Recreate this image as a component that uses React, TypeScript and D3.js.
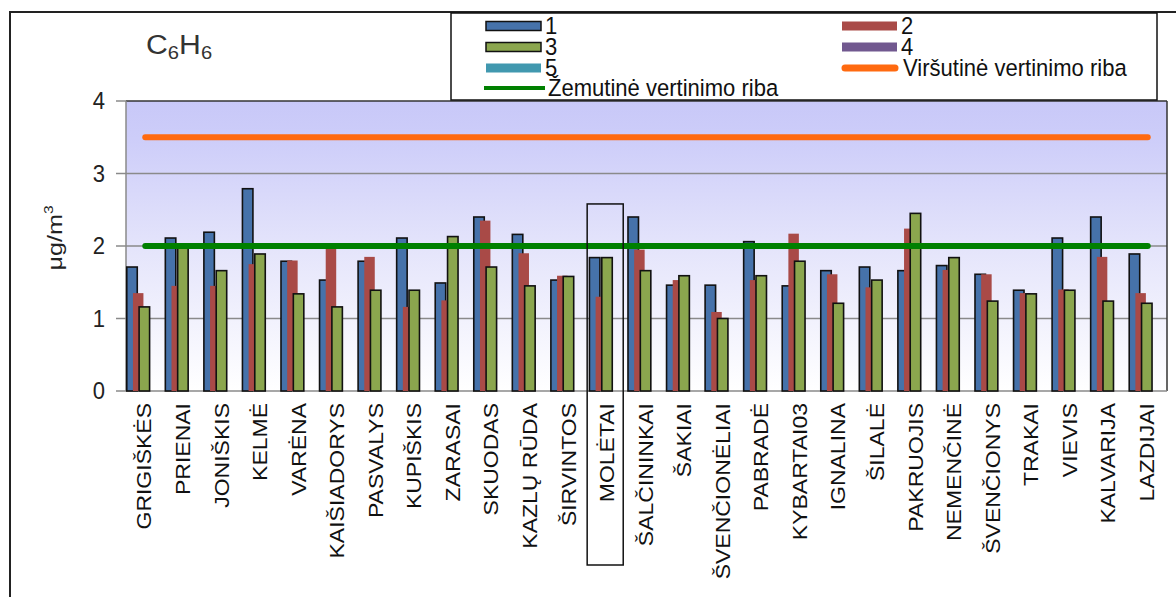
import React from "react";
import * as d3 from "d3";

const categories = ["GRIGIŠKĖS","PRIENAI","JONIŠKIS","KELMĖ","VARĖNA","KAIŠIADORYS","PASVALYS","KUPIŠKIS","ZARASAI","SKUODAS","KAZLŲ RŪDA","ŠIRVINTOS","MOLĖTAI","ŠALČININKAI","ŠAKIAI","ŠVENČIONĖLIAI","PABRADĖ","KYBARTAI03","IGNALINA","ŠILALĖ","PAKRUOJIS","NEMENČINĖ","ŠVENČIONYS","TRAKAI","VIEVIS","KALVARIJA","LAZDIJAI"];
const series1 = [1.71,2.11,2.19,2.79,1.79,1.53,1.79,2.11,1.49,2.40,2.16,1.53,1.84,2.40,1.46,1.46,2.06,1.45,1.66,1.71,1.66,1.73,1.61,1.39,2.11,2.40,1.89];
const series2 = [1.35,1.45,1.45,1.75,1.80,1.98,1.85,1.16,1.25,2.35,1.90,1.59,1.30,1.95,1.53,1.09,1.53,2.17,1.61,1.43,2.24,1.67,1.61,1.35,1.40,1.85,1.35];
const series3 = [1.16,1.98,1.66,1.89,1.34,1.16,1.39,1.39,2.13,1.71,1.45,1.58,1.84,1.66,1.59,1.00,1.59,1.79,1.21,1.53,2.45,1.84,1.24,1.34,1.39,1.24,1.21];
const series4: number[] = [];
const series5: number[] = [];
const seriesNames = ["1","2","3","4","5"];
const seriesColors = ["#4672AA","#A94A47","#8BA64E","#71588F","#4198AF"];
const seriesOutlined = [true,false,true,false,false];
const upperLimit = 3.5;
const lowerLimit = 2.0;
const upperName = "Viršutinė vertinimo riba";
const lowerName = "Žemutinė vertinimo riba";
const yTicks = [0,1,2,3,4];
const highlighted = "MOLĖTAI";

const allSeries = [series1, series2, series3, series4, series5];

export default function App() {
  const W = 1176, H = 597;
  const plot = { left: 126, right: 1167, top: 101, bottom: 391 };
  const x = d3.scaleBand<string>().domain(categories).range([plot.left, plot.right]);
  const y = d3.scaleLinear().domain([0, 4]).range([plot.bottom, plot.top]);
  const bw = x.bandwidth();
  const barW = bw * 0.272;
  const step = bw * 0.16;
  const off = bw * 0.02;
  const font = "Arial, 'Liberation Sans', sans-serif";
  const c0 = (x(categories[0]) as number) + bw / 2;
  const cN = (x(categories[categories.length - 1]) as number) + bw / 2;
  const hx = x(highlighted) as number;
  const legendText = (tx: number, ty: number, s: string) => (
    <text transform={`translate(${tx},${ty}) scale(1.05,1.15)`} fontSize={21} fill="#111">{s}</text>
  );

  return (
    <svg width={W} height={H} style={{ position: "absolute", left: 0, top: 0, background: "#fff" }} fontFamily={font}>
      <defs>
        <linearGradient id="bg" x1="0" y1="0" x2="0" y2="1">
          <stop offset="0" stopColor="#c8c8f8" />
          <stop offset="0.13" stopColor="#cdcdf9" />
          <stop offset="0.5" stopColor="#e4e4fb" />
          <stop offset="1" stopColor="#ffffff" />
        </linearGradient>
      </defs>
      {/* outer frame */}
      <line x1={9} x2={W} y1={12} y2={12} stroke="#222" strokeWidth={2} />
      <line x1={10} x2={10} y1={12} y2={H} stroke="#222" strokeWidth={2} />

      {/* title */}
      <text transform="translate(146,54) scale(1.12,1)" fontSize={27} fill="#333">
        C<tspan fontSize={18} dy={5}>6</tspan><tspan dy={-5}>H</tspan><tspan fontSize={18} dy={5}>6</tspan>
      </text>

      {/* plot background */}
      <rect x={plot.left} y={plot.top} width={plot.right - plot.left} height={plot.bottom - plot.top} fill="url(#bg)" />
      {yTicks.filter(t => t > 0 && t < 4).map(t => (
        <line key={t} x1={plot.left} x2={plot.right} y1={y(t)} y2={y(t)} stroke="#8a8a8a" strokeWidth={1.5} />
      ))}
      <line x1={plot.left} x2={plot.right} y1={y(4)} y2={y(4)} stroke="#333" strokeWidth={1.5} />
      <line x1={plot.right} x2={plot.right} y1={y(4)} y2={y(0)} stroke="#333" strokeWidth={1.5} />
      <line x1={plot.left} x2={plot.left} y1={y(4)} y2={y(0)} stroke="#8a8a8a" strokeWidth={1.5} />
      <line x1={plot.left} x2={plot.right} y1={y(0)} y2={y(0)} stroke="#8a8a8a" strokeWidth={1.5} />
      {yTicks.map(t => (
        <g key={t}>
          <line x1={plot.left - 10} x2={plot.left} y1={y(t)} y2={y(t)} stroke="#8a8a8a" strokeWidth={1.5} />
          <text transform={`translate(105,${y(t)}) scale(1.05,1.1)`} dy="0.36em" textAnchor="end" fontSize={21} fill="#222">{t}</text>
        </g>
      ))}

      {/* bars */}
      {allSeries.map((s, si) => (
        <g key={si}>
          {s.map((v, ci) => {
            const bx = (x(categories[ci]) as number) + off + si * step;
            return (
              <rect key={ci} x={bx} y={y(v)} width={barW} height={y(0) - y(v)}
                fill={seriesColors[si]} stroke={seriesOutlined[si] ? "#111" : "none"} strokeWidth={1.6} />
            );
          })}
        </g>
      ))}

      {/* limit lines */}
      <line x1={c0} x2={cN} y1={y(upperLimit)} y2={y(upperLimit)} stroke="#FF6A10" strokeWidth={6} strokeLinecap="round" />
      <line x1={c0} x2={cN} y1={y(lowerLimit)} y2={y(lowerLimit)} stroke="#008000" strokeWidth={6} strokeLinecap="round" />

      {/* category labels */}
      {categories.map(c => (
        <text key={c} transform={`translate(${(x(c) as number) + bw / 2 - 1},403) rotate(-90) scale(1.15,1)`}
          textAnchor="end" dy="0.36em" fontSize={20} fill="#111">{c}</text>
      ))}

      {/* highlight box */}
      <rect x={hx - 1.5} y={y(2.58)} width={bw - 2.5} height={565 - y(2.58)} fill="none" stroke="#111" strokeWidth={1.5} />

      {/* y label */}
      <text transform={`translate(62,238) rotate(-90) scale(1.2,1)`} textAnchor="middle" fontSize={21} fill="#222">
        μg/m<tspan fontSize={13} dy={-9}>3</tspan>
      </text>

      {/* legend */}
      <rect x={451} y={13} width={706} height={87} fill="#fff" stroke="#111" strokeWidth={1.5} />
      {[0, 1, 2, 3, 4].map(i => {
        const col = i % 2;
        const row = Math.floor(i / 2);
        const sx = col === 0 ? 486 : 842;
        const cy = 26 + row * 21;
        return (
          <g key={i}>
            <rect x={sx} y={cy - 4.5} width={55} height={9} fill={seriesColors[i]}
              stroke={seriesOutlined[i] ? "#111" : "none"} strokeWidth={1.5} />
            {legendText(sx + 59, cy + 8, seriesNames[i])}
          </g>
        );
      })}
      <line x1={845} x2={895} y1={68} y2={68} stroke="#FF6A10" strokeWidth={7} strokeLinecap="round" />
      {legendText(903, 76, upperName)}
      <line x1={484} x2={545} y1={88} y2={88} stroke="#008000" strokeWidth={4} />
      {legendText(548, 96, lowerName)}
    </svg>
  );
}
